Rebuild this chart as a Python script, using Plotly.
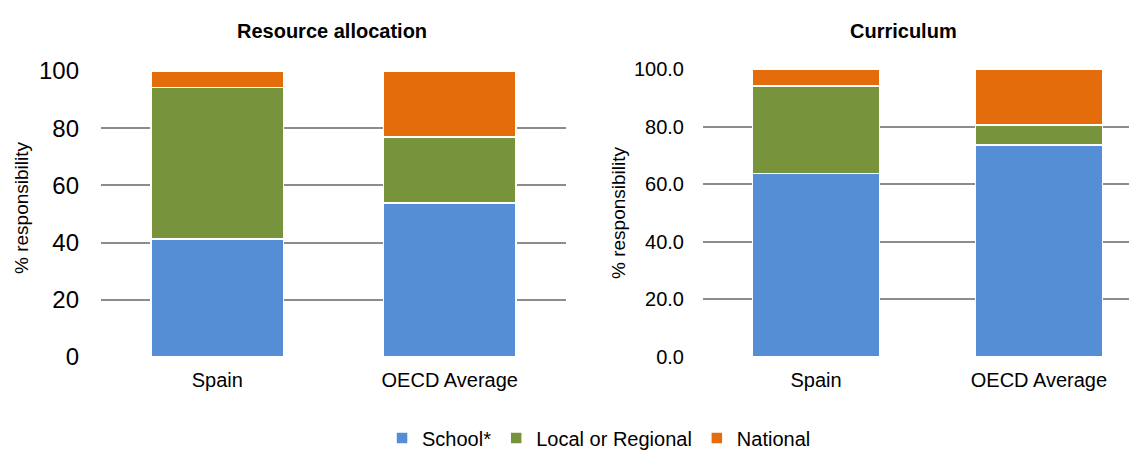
import plotly.graph_objects as go

categories = ["Spain", "OECD Average"]
series_names = ["School*", "Local or Regional", "National"]

resource_school = [41.3, 53.9]
resource_local = [53.0, 23.1]
resource_national = [5.7, 23.0]

curriculum_school = [63.7, 73.6]
curriculum_local = [30.4, 7.0]
curriculum_national = [5.9, 19.4]

left_ticks = [0, 20, 40, 60, 80, 100]
right_ticks = [0, 20, 40, 60, 80, 100]
right_tick_labels = ["0.0", "20.0", "40.0", "60.0", "80.0", "100.0"]

colors = ["#558ed5", "#77933c", "#e46c0a"]
FONT = "Liberation Sans, Arial, sans-serif"

# the page body adds an 8px margin, so the figure is 8px smaller than the window
W, H = 1129, 444


def px(x):
    return x / W


def py(y):
    return 1 - y / H


fig = go.Figure()

left_series = [resource_school, resource_local, resource_national]
right_series = [curriculum_school, curriculum_local, curriculum_national]

for name, vals, col in zip(series_names, left_series, colors):
    fig.add_trace(go.Bar(x=categories, y=vals, name=name, marker=dict(color=col, line=dict(color="white", width=1.5)),
                         xaxis="x", yaxis="y", legendgroup=name, showlegend=True))
for name, vals, col in zip(series_names, right_series, colors):
    fig.add_trace(go.Bar(x=categories, y=vals, name=name, marker=dict(color=col, line=dict(color="white", width=1.5)),
                         xaxis="x2", yaxis="y2", legendgroup=name, showlegend=False))

grid = "#8c8c8c"
fig.update_layout(
    width=W, height=H,
    autosize=False,
    margin=dict(l=0, r=0, t=0, b=0, pad=0, autoexpand=False),
    paper_bgcolor="white", plot_bgcolor="white",
    barmode="stack", bargap=0.43,
    font=dict(family=FONT, color="#000000"),
    xaxis=dict(domain=[px(93), px(558)], anchor="y", range=[-0.5, 1.5], showgrid=False, showline=False,
               tickfont=dict(size=20), ticks="", ticklabelstandoff=9, automargin=False),
    yaxis=dict(domain=[py(349), py(63)], anchor="x", range=[0, 100], tickvals=left_ticks,
               showgrid=True, gridcolor=grid, gridwidth=1.5, zeroline=False, showline=False,
               tickfont=dict(size=24), ticks="", ticklabelstandoff=21, automargin=False),
    xaxis2=dict(domain=[px(695), 1.0], anchor="y2", range=[-0.507, 1.44], showgrid=False, showline=False,
                tickfont=dict(size=20), ticks="", ticklabelstandoff=9, automargin=False),
    yaxis2=dict(domain=[py(349), py(61)], anchor="x2", range=[0, 100], tickvals=right_ticks,
                ticktext=right_tick_labels, showgrid=True, gridcolor=grid, gridwidth=1.5, zeroline=False,
                showline=False, tickfont=dict(size=20), ticks="", ticklabelstandoff=18, automargin=False),
    legend=dict(orientation="h", x=0.5235, xanchor="center", y=py(430), yanchor="middle",
                xref="container", yref="container",
                font=dict(size=20), traceorder="normal", itemwidth=30),
    annotations=[
        dict(text="<b>Resource allocation</b>", x=px(324), y=py(23), xref="paper", yref="paper",
             showarrow=False, font=dict(size=20), xanchor="center", yanchor="middle"),
        dict(text="<b>Curriculum</b>", x=px(895), y=py(23), xref="paper", yref="paper",
             showarrow=False, font=dict(size=20), xanchor="center", yanchor="middle"),
        dict(text="% responsibility", x=px(13), y=py(200), xref="paper", yref="paper", textangle=-90,
             showarrow=False, font=dict(size=19), xanchor="center", yanchor="middle"),
        dict(text="% responsibility", x=px(610), y=py(205), xref="paper", yref="paper", textangle=-90,
             showarrow=False, font=dict(size=19), xanchor="center", yanchor="middle"),
    ],
)

fig.write_html("out.html")
